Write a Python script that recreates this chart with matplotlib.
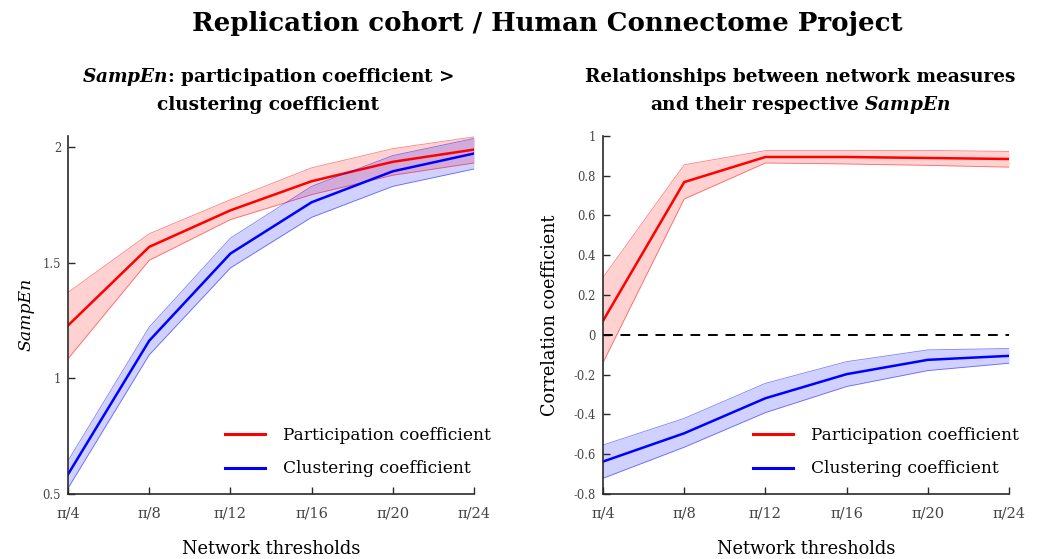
import matplotlib
matplotlib.use("Agg")
import matplotlib.pyplot as plt
import numpy as np

thresholds = ["π/4", "π/8", "π/12", "π/16", "π/20", "π/24"]

# Left panel: SampEn
pc_sampen = [1.229, 1.569, 1.727, 1.853, 1.937, 1.990]
pc_sampen_hi = [1.372, 1.626, 1.773, 1.911, 1.994, 2.045]
pc_sampen_lo = [1.085, 1.511, 1.687, 1.795, 1.879, 1.932]
cc_sampen = [0.585, 1.163, 1.540, 1.762, 1.896, 1.973]
cc_sampen_hi = [0.644, 1.222, 1.607, 1.831, 1.964, 2.038]
cc_sampen_lo = [0.525, 1.102, 1.478, 1.697, 1.831, 1.906]

# Right panel: correlation coefficient
pc_corr = [0.070, 0.767, 0.893, 0.893, 0.888, 0.883]
pc_corr_hi = [0.288, 0.854, 0.925, 0.925, 0.926, 0.921]
pc_corr_lo = [-0.140, 0.682, 0.863, 0.858, 0.851, 0.842]
cc_corr = [-0.637, -0.495, -0.319, -0.198, -0.126, -0.106]
cc_corr_hi = [-0.554, -0.420, -0.244, -0.135, -0.076, -0.069]
cc_corr_lo = [-0.721, -0.565, -0.391, -0.260, -0.180, -0.143]

series_labels = ['Participation coefficient', 'Clustering coefficient']

plt.rcParams['font.family'] = ['DejaVu Serif']
plt.rcParams['mathtext.fontset'] = 'custom'
plt.rcParams['mathtext.rm'] = 'DejaVu Serif:bold'
plt.rcParams['mathtext.it'] = 'DejaVu Serif:italic:bold'
plt.rcParams['mathtext.bf'] = 'DejaVu Serif:bold'

RED = (1.0, 0.0, 0.0)
BLUE = (0.0, 0.0, 1.0)
SPINE = '#2a2a2a'
TICKC = '#444444'
W, H = 1041, 559
BOOST = 1.04

fig = plt.figure(figsize=(W / 100, H / 100), dpi=100)
renderer = fig.canvas.get_renderer()


def fit_size(s, target_px, boost=BOOST, **kw):
    t = fig.text(0, 0, s, fontsize=10, **kw)
    w = t.get_window_extent(renderer).width
    t.remove()
    return 10.0 * target_px / w * boost


ax_h = (494 - 135.7) / H
ax1 = fig.add_axes([68 / W, 1 - 494 / H, 406 / W, ax_h])
ax2 = fig.add_axes([603 / W, 1 - 494 / H, 406 / W, ax_h])

x = np.arange(1, len(thresholds) + 1)

leg_fs = fit_size(series_labels[0], 207, boost=1.0)
xl_fs = fit_size('Network thresholds', 172)
tick_fs = fit_size('π/24', 33, boost=1.0)
ytick_fs = fit_size('-0.8', 22, boost=1.0)


def draw(ax, y, lo, hi, color, label):
    ax.fill_between(x, lo, hi, color=color, alpha=0.18, linewidth=0)
    ax.plot(x, lo, color=color, lw=0.6, alpha=0.5)
    ax.plot(x, hi, color=color, lw=0.6, alpha=0.5)
    ax.plot(x, y, color=color, lw=1.8, label=label)


def style(ax, handle_x_px, ax_left_px):
    for s in ['top', 'right']:
        ax.spines[s].set_visible(False)
    for s in ['left', 'bottom']:
        ax.spines[s].set_color(SPINE)
        ax.spines[s].set_linewidth(1.2)
    ax.tick_params(direction='in', length=5, width=1.0, color=SPINE,
                   labelcolor=TICKC)
    ax.tick_params(axis='y', pad=5, labelsize=ytick_fs)
    ax.tick_params(axis='x', pad=9, labelsize=tick_fs)
    ax.set_xticks(x)
    ax.set_xticklabels(thresholds)
    ax.set_xlim(1, 6)
    ax.set_xlabel('Network thresholds', fontsize=xl_fs, labelpad=14)
    fs_px = leg_fs * 100 / 72
    leg = ax.legend(loc='center left', frameon=False, fontsize=leg_fs,
                    handlelength=40 / fs_px, handletextpad=18 / fs_px,
                    labelspacing=1.0, borderpad=0, borderaxespad=0,
                    bbox_to_anchor=((handle_x_px - ax_left_px) / 406,
                                    (494 - 452) / 358.3))
    for l in leg.get_lines():
        l.set_linewidth(2.2)


draw(ax1, pc_sampen, pc_sampen_lo, pc_sampen_hi, RED, series_labels[0])
draw(ax1, cc_sampen, cc_sampen_lo, cc_sampen_hi, BLUE, series_labels[1])
ax1.set_ylim(0.5, 2.05)
ax1.set_yticks([0.5, 1, 1.5, 2])
ax1.set_yticklabels(['0.5', '1', '1.5', '2'])
ax1.set_ylabel('SampEn', fontsize=fit_size('SampEn', 70, style='italic'),
               style='italic', labelpad=6)
style(ax1, 225, 68)

ax2.plot([1, 6], [0, 0], color='black', lw=1.4, ls=(0, (5, 4)))
draw(ax2, pc_corr, pc_corr_lo, pc_corr_hi, RED, series_labels[0])
draw(ax2, cc_corr, cc_corr_lo, cc_corr_hi, BLUE, series_labels[1])
ax2.set_ylim(-0.8, 1.0)
yt = [-0.8, -0.6, -0.4, -0.2, 0, 0.2, 0.4, 0.6, 0.8, 1]
ax2.set_yticks(yt)
ax2.set_yticklabels(['-0.8', '-0.6', '-0.4', '-0.2', '0', '0.2', '0.4', '0.6', '0.8', '1'])
ax2.set_ylabel('Correlation coefficient',
               fontsize=fit_size('Correlation coefficient', 195), labelpad=11)
style(ax2, 753, 603)

title = 'Replication cohort / Human Connectome Project'
fig.text(547 / W, 1 - 31 / H, title, ha='center', va='baseline',
         fontsize=fit_size(title, 684, fontweight='bold'), fontweight='bold')

sub_l1 = r'$\mathit{SampEn}$: participation coefficient >'
sub_r1 = 'Relationships between network measures'
sub_fs = fit_size(sub_r1, 415, fontweight='bold')
fig.text(268.5 / W, 1 - 82 / H, sub_l1, ha='center', va='baseline',
         fontsize=sub_fs, fontweight='bold')
fig.text(268.5 / W, 1 - 110 / H, 'clustering coefficient', ha='center',
         va='baseline', fontsize=sub_fs, fontweight='bold')
fig.text(800.5 / W, 1 - 82 / H, sub_r1, ha='center', va='baseline',
         fontsize=sub_fs, fontweight='bold')
fig.text(800.5 / W, 1 - 110 / H, r'and their respective $\mathit{SampEn}$',
         ha='center', va='baseline', fontsize=sub_fs, fontweight='bold')

fig.savefig('out.png', dpi=100)
